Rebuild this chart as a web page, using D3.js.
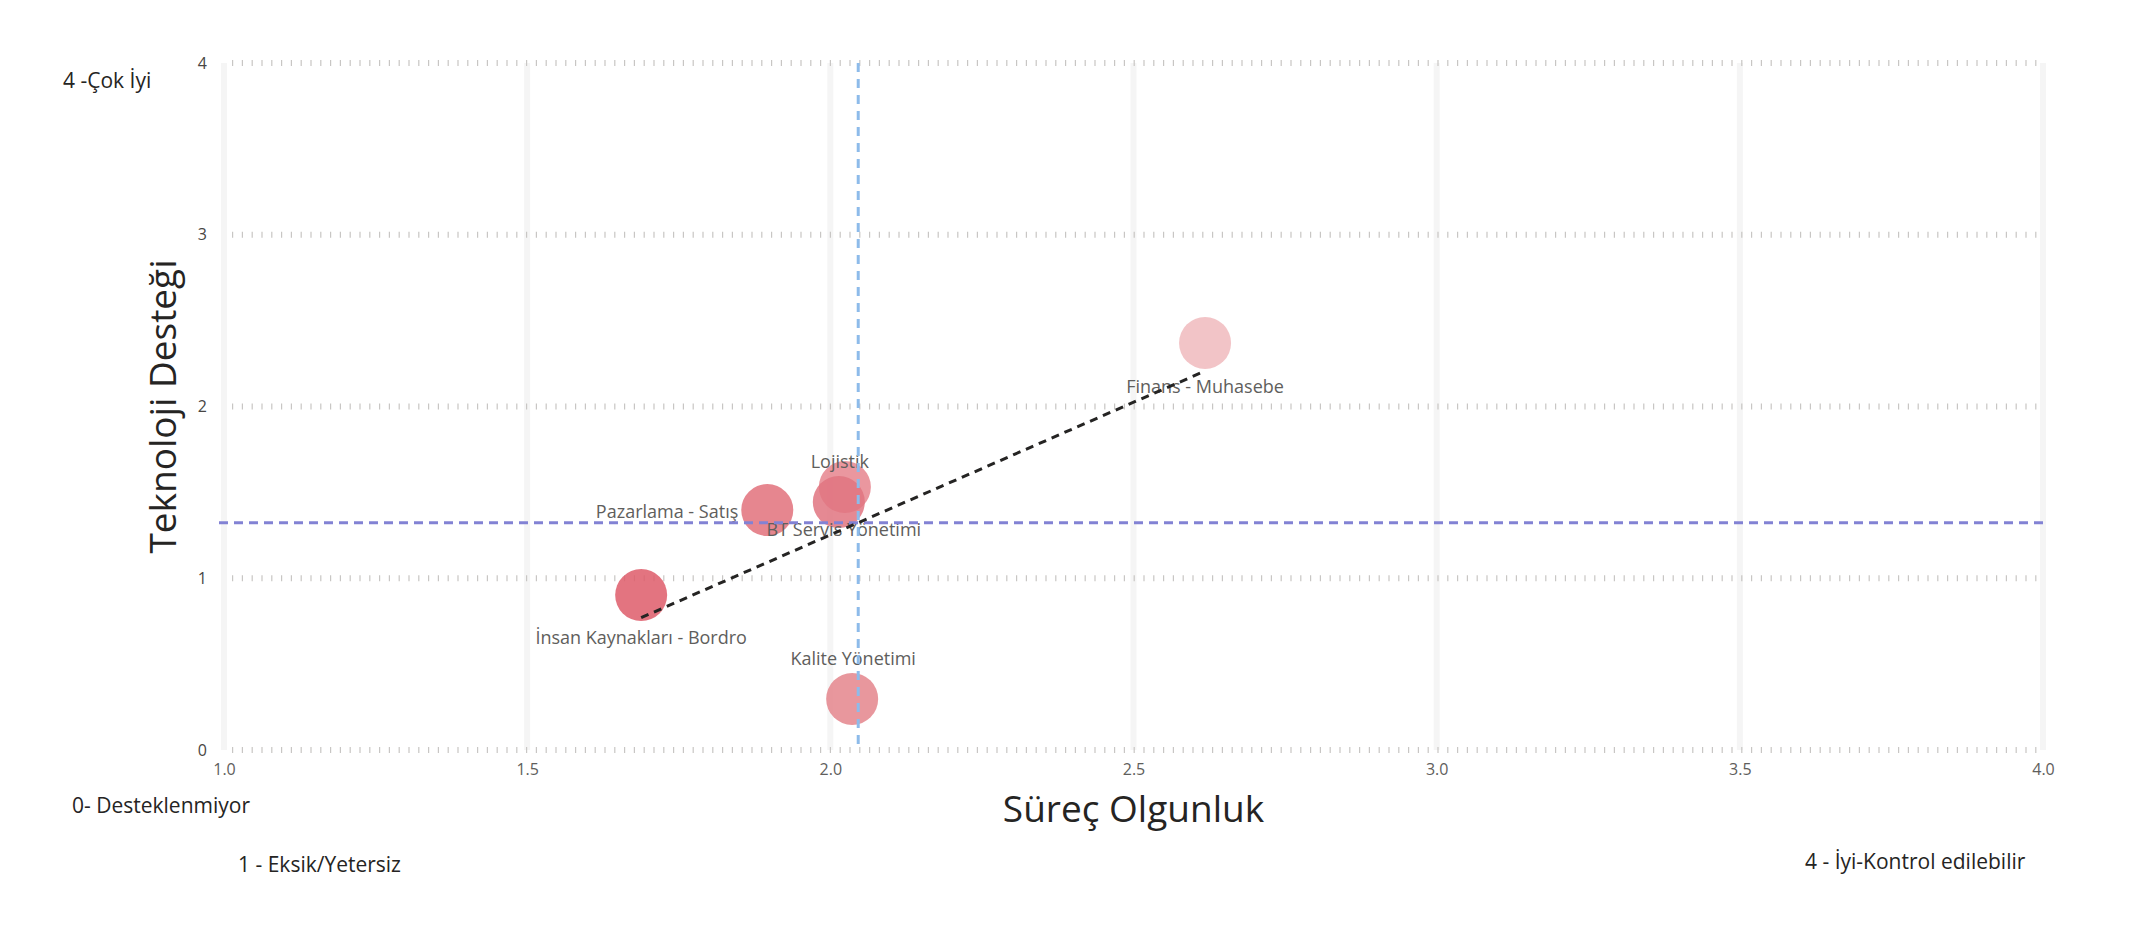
<!DOCTYPE html>
<html>
<head>
<meta charset="utf-8">
<script src="https://cdn.jsdelivr.net/npm/d3@7"></script>
<style>
  html, body { margin: 0; padding: 0; background: #ffffff; }
  svg { display: block; }
  text { font-family: "Open Sans", "Noto Sans", sans-serif; }
</style>
</head>
<body>
<svg id="chart" width="2150" height="950"></svg>
<script>
// ---- data ----
const categories = ["Finans - Muhasebe", "Lojistik", "BT Servis Yönetimi", "Pazarlama - Satış", "İnsan Kaynakları - Bordro", "Kalite Yönetimi"];
const surecOlgunluk = [2.618, 2.024, 2.014, 1.896, 1.688, 2.036];
const teknolojiDestegi = [2.37, 1.531, 1.444, 1.397, 0.902, 0.297];
const pointColors = ["#f0babd", "#e6858e", "#e07480", "#e2717b", "#de5c6a", "#e4858c"];
const xTicks = [1.0, 1.5, 2.0, 2.5, 3.0, 3.5, 4.0];
const yTicks = [0, 1, 2, 3, 4];
const xTitle = "Süreç Olgunluk";
const yTitle = "Teknoloji Desteği";
const cornerLabels = ["4 -Çok İyi", "0- Desteklenmiyor", "1 - Eksik/Yetersiz", "4 - İyi-Kontrol edilebilir"];

// ---- layout ----
const svg = d3.select("#chart");
const x = d3.scaleLinear().domain([1, 4]).range([224, 2043]);
const y = d3.scaleLinear().domain([0, 4]).range([750, 63]);

const points = categories.map((c, i) => ({ name: c, x: surecOlgunluk[i], y: teknolojiDestegi[i], color: pointColors[i] }));

// label placement: [dx, dy, anchor]
const labelPlacement = {
  "Finans - Muhasebe": [0, 45, "middle"],
  "Lojistik": [-5, -24, "middle"],
  "BT Servis Yönetimi": [5, 29, "middle"],
  "Pazarlama - Satış": [-29, 3, "end"],
  "İnsan Kaynakları - Bordro": [0, 44, "middle"],
  "Kalite Yönetimi": [1, -39, "middle"]
};

// vertical grid (solid, light)
svg.append("g").selectAll("line").data(xTicks).join("line")
  .attr("x1", d => x(d)).attr("x2", d => x(d))
  .attr("y1", y(4)).attr("y2", y(0))
  .attr("stroke", "#f5f5f5").attr("stroke-width", 6);

// horizontal grid (dotted ticks)
svg.append("g").selectAll("line").data(yTicks).join("line")
  .attr("x1", x(1) + 8).attr("x2", x(4))
  .attr("y1", d => y(d)).attr("y2", d => y(d))
  .attr("stroke", "#c8c6c4").attr("stroke-width", 6)
  .attr("stroke-dasharray", "1.2,8.6");

// axes via d3 axis generators
const xAxis = d3.axisBottom(x).tickValues(xTicks).tickFormat(d3.format(".1f")).tickSize(0).tickPadding(14);
const gx = svg.append("g").attr("transform", `translate(0,${y(0)})`).call(xAxis);
gx.select(".domain").remove();
gx.selectAll("text").attr("font-size", 16).attr("fill", "#605e5c").attr("font-family", "'Open Sans', sans-serif");

const yAxis = d3.axisLeft(y).tickValues(yTicks).tickFormat(d3.format("d")).tickSize(0).tickPadding(17);
const gy = svg.append("g").attr("transform", `translate(${x(1)},0)`).call(yAxis);
gy.select(".domain").remove();
gy.selectAll("text").attr("font-size", 16).attr("fill", "#484644").attr("font-family", "'Open Sans', sans-serif");

// points
svg.append("g").selectAll("circle").data(points).join("circle")
  .attr("cx", d => x(d.x)).attr("cy", d => y(d.y)).attr("r", 26)
  .attr("fill", d => d.color).attr("fill-opacity", 0.85);

// data labels
svg.append("g").selectAll("text").data(points).join("text")
  .attr("x", d => x(d.x) + labelPlacement[d.name][0])
  .attr("y", d => y(d.y) + labelPlacement[d.name][1])
  .attr("text-anchor", d => labelPlacement[d.name][2])
  .attr("dominant-baseline", "middle")
  .attr("font-size", 18).attr("fill", "#605e5c")
  .text(d => d.name);

// average reference lines
const meanX = d3.mean(surecOlgunluk);
const meanY = d3.mean(teknolojiDestegi);
svg.append("line")
  .attr("x1", x(1) - 5).attr("x2", x(4))
  .attr("y1", y(meanY)).attr("y2", y(meanY))
  .attr("stroke", "#8282d4").attr("stroke-width", 3).attr("stroke-dasharray", "9,6");
svg.append("line")
  .attr("x1", x(meanX)).attr("x2", x(meanX))
  .attr("y1", y(4)).attr("y2", y(0))
  .attr("stroke", "#8dbbea").attr("stroke-width", 3).attr("stroke-dasharray", "9,7");

// linear regression trend line
const mx = meanX, my = meanY;
let sxy = 0, sxx = 0;
surecOlgunluk.forEach((v, i) => { sxy += (v - mx) * (teknolojiDestegi[i] - my); sxx += (v - mx) * (v - mx); });
const slope = sxy / sxx, intercept = my - slope * mx;
const [xMin, xMax] = d3.extent(surecOlgunluk);
svg.append("path")
  .datum([xMin, xMax])
  .attr("d", d3.line().x(d => x(d)).y(d => y(intercept + slope * d)))
  .attr("stroke", "#252423").attr("stroke-width", 3).attr("fill", "none")
  .attr("stroke-dasharray", "8,6");

// axis titles
svg.append("text")
  .attr("x", (x(1) + x(4)) / 2).attr("y", 822)
  .attr("text-anchor", "middle").attr("font-size", 37).attr("fill", "#252423")
  .text(xTitle);
svg.append("text")
  .attr("transform", `translate(176,${(y(0) + y(4)) / 2}) rotate(-90)`)
  .attr("text-anchor", "middle").attr("font-size", 37).attr("fill", "#252423")
  .text(yTitle);

// corner annotations
const cornerPos = [[63, 82], [72, 807], [238, 866], [1805, 863]];
svg.append("g").selectAll("text").data(cornerLabels).join("text")
  .attr("x", (d, i) => cornerPos[i][0]).attr("y", (d, i) => cornerPos[i][1])
  .attr("dominant-baseline", "middle")
  .attr("font-size", 21).attr("fill", "#252423")
  .text(d => d);
</script>
</body>
</html>
